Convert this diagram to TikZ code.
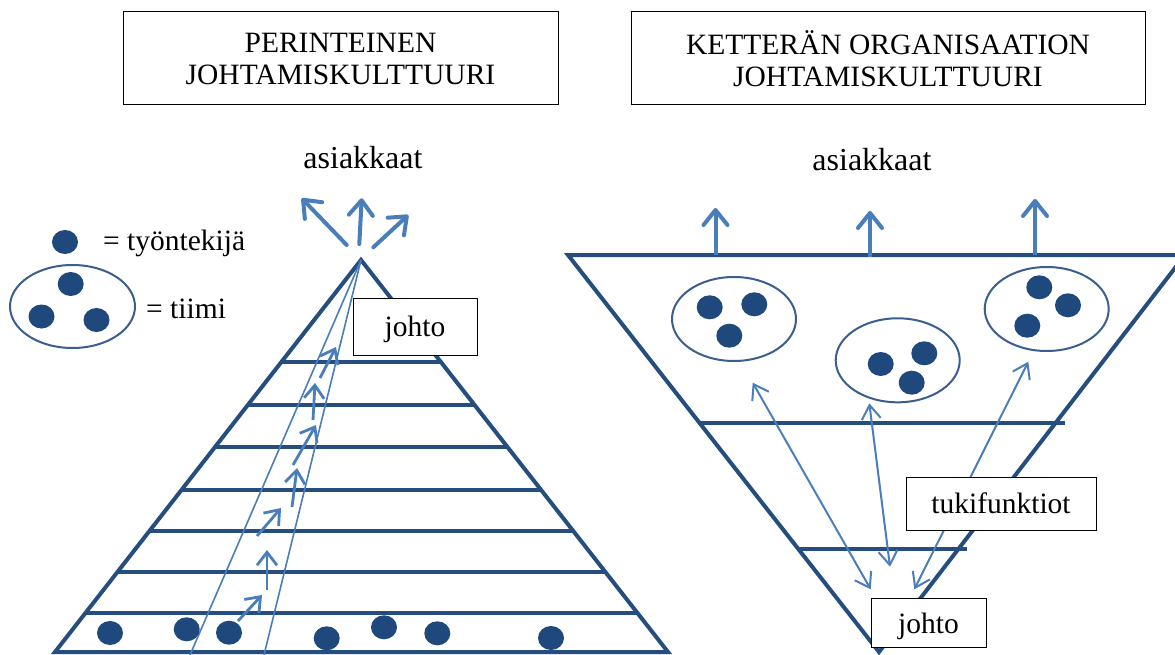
\documentclass[tikz,border=0pt]{standalone}
\usepackage{fontspec}
\setmainfont{Liberation Serif}
\usetikzlibrary{arrows.meta,shapes.geometric,calc}
\definecolor{dkblue}{HTML}{1F497D}
\definecolor{pyrblue}{HTML}{254E7F}
\definecolor{ellblue}{HTML}{3A5F8E}
\definecolor{arrblue}{HTML}{4A7EBB}
\begin{document}
\begin{tikzpicture}[x=1pt,y=-1pt,
  font=\fontsize{29.5}{32}\selectfont,
  pyr/.style={draw=pyrblue, line width=4pt},
  bigarrow/.style={draw=arrblue, line width=4pt, line cap=round, -{Straight Barb[length=15pt,width=24pt,round]}},
  charrow/.style={draw=arrblue, line width=2.8pt, -{Straight Barb[length=13pt,width=20pt]}},
  dblarrow/.style={draw=arrblue, line width=2pt, {Straight Barb[length=14pt,width=19pt]}-{Straight Barb[length=14pt,width=19pt]}},
  thinline/.style={draw=arrblue, line width=1.6pt},
  dot/.style={ellipse, fill=dkblue, minimum width=26pt, minimum height=24pt, inner sep=0pt},
  team/.style={ellipse, draw=ellblue, line width=2pt, minimum width=124pt, minimum height=84pt, inner sep=0pt},
  box/.style={draw=black, line width=1pt, fill=white, inner sep=0pt, align=center},
  txt/.style={inner sep=0pt}]
\useasboundingbox (0,0) rectangle (1175,655);
\fill[white] (0,0) rectangle (1175,655);

% titles
\node[box, minimum width=435pt, minimum height=93pt] (tl) at (340.5,58.5) {PERINTEINEN\\JOHTAMISKULTTUURI};
\node[box, minimum width=514pt, minimum height=93pt] (tr) at (888,58.5) {KETTERÄN ORGANISAATION\\JOHTAMISKULTTUURI};
\node[txt, anchor=base, font=\fontsize{32}{36}\selectfont] (asl) at (363,169) {asiakkaat};
\node[txt, anchor=base, font=\fontsize{32}{36}\selectfont] (asr) at (872,171) {asiakkaat};

% legend
\node[dot] (ld) at (65,242) {};
\node[txt, anchor=base west] (lt1) at (103,250) {= työntekijä};
\node[team, minimum width=125pt, minimum height=83pt] (lteam) at (72.5,306.5) {};
\node[dot] (ld1) at (70.7,284) {};
\node[dot] (ld2) at (41.5,316.5) {};
\node[dot] (ld3) at (96.5,320) {};
\node[txt, anchor=base west] (lt2) at (146,318) {= tiimi};

% left pyramid
\coordinate (ap) at (361,260);
\coordinate (lb) at (55,652);
\coordinate (rb) at (668,652);
\draw[pyr, line join=miter] (lb) -- (ap) -- (rb) -- cycle;
\foreach \t in {0.2602,0.3699,0.4770,0.5867,0.6913,0.7959,0.9005}
  \draw[pyr] ($(ap)!\t!(lb)$) -- ($(ap)!\t!(rb)$);
\coordinate (ch1) at (190,655);
\coordinate (ch2) at (264,655);
\draw[thinline] (ap) -- (ch1);
\draw[thinline] (ap) -- (ch2);
\foreach \n/\ax/\ay/\bx/\by in {1/238/621/262/595, 2/267/590/267/550, 3/257/536/281/508,
  4/292/507/297/468, 5/293/465/316/425, 6/313/420/315/383, 7/320/378/336/347}{
  \coordinate (c\n a) at (\ax,\ay);
  \coordinate (c\n b) at (\bx,\by);
  \draw[charrow] (c\n a) -- (c\n b);
}
\foreach \n/\x/\y in {1/110/633, 2/186.7/629.3, 3/229/632.7, 4/326.7/638.3, 5/384/627.3, 6/437.3/633.3, 7/551/638}
  \node[dot] (bd\n) at (\x,\y) {};
% top arrows left
\coordinate (la1) at (346.7,245); \coordinate (lb1) at (301.7,198.3);
\coordinate (la2) at (359.3,244); \coordinate (lb2) at (361.7,198.3);
\coordinate (la3) at (373.3,247.3); \coordinate (lb3) at (408.3,215);
\draw[bigarrow] (la1) -- (lb1);
\draw[bigarrow] (la2) -- (lb2);
\draw[bigarrow] (la3) -- (lb3);
\node[box, minimum width=124pt, minimum height=57pt, text height=26pt, text depth=6pt] (jl) at (415,326.5) {johto};

% right inverted pyramid
\coordinate (tl2) at (568,255);
\coordinate (ap2) at (879,652);
\coordinate (tr2) at (1185,255);
\draw[pyr, line join=miter] (tr2) -- (tl2) -- (ap2) -- (tr2);
\coordinate (h1a) at (700,423); \coordinate (h1b) at (1065,423);
\coordinate (h2a) at (798,549); \coordinate (h2b) at (967,549);
\draw[pyr] (h1a) -- (h1b);
\draw[pyr] (h2a) -- (h2b);
\coordinate (ra1) at (715.5,255); \coordinate (rb1) at (715.5,208);
\coordinate (ra2) at (870,257); \coordinate (rb2) at (870,211);
\coordinate (ra3) at (1035,255); \coordinate (rb3) at (1035,199);
\draw[bigarrow, line cap=butt] (ra1) -- (rb1);
\draw[bigarrow, line cap=butt] (ra2) -- (rb2);
\draw[bigarrow, line cap=butt] (ra3) -- (rb3);
\node[team] (t1) at (734,319) {};
\node[team] (t2) at (897.7,360.3) {};
\node[team] (t3) at (1046.7,309) {};
\foreach \n/\x/\y in {1/709.7/307.3, 2/754.3/304.3, 3/729.3/335.7, 4/880.7/364, 5/924.3/353.3,
  6/911.7/382.7, 7/1039.3/287.3, 8/1068/305.3, 9/1027.3/325.7}
  \node[dot] (rd\n) at (\x,\y) {};
\coordinate (da1) at (752.7,382.7); \coordinate (db1) at (870.7,589.3);
\coordinate (da2) at (869.3,403.3); \coordinate (db2) at (890,566.7);
\coordinate (da3) at (1028.3,361.7); \coordinate (db3) at (914.3,589.3);
\draw[dblarrow] (da1) -- (db1);
\draw[dblarrow] (da2) -- (db2);
\draw[dblarrow] (da3) -- (db3);
\node[box, minimum width=190pt, minimum height=53pt] (tuki) at (1001,503.5) {tukifunktiot};
\node[box, minimum width=115pt, minimum height=49pt, text height=28pt, text depth=6pt] (jr) at (928.5,622.5) {johto};
\end{tikzpicture}
\end{document}
